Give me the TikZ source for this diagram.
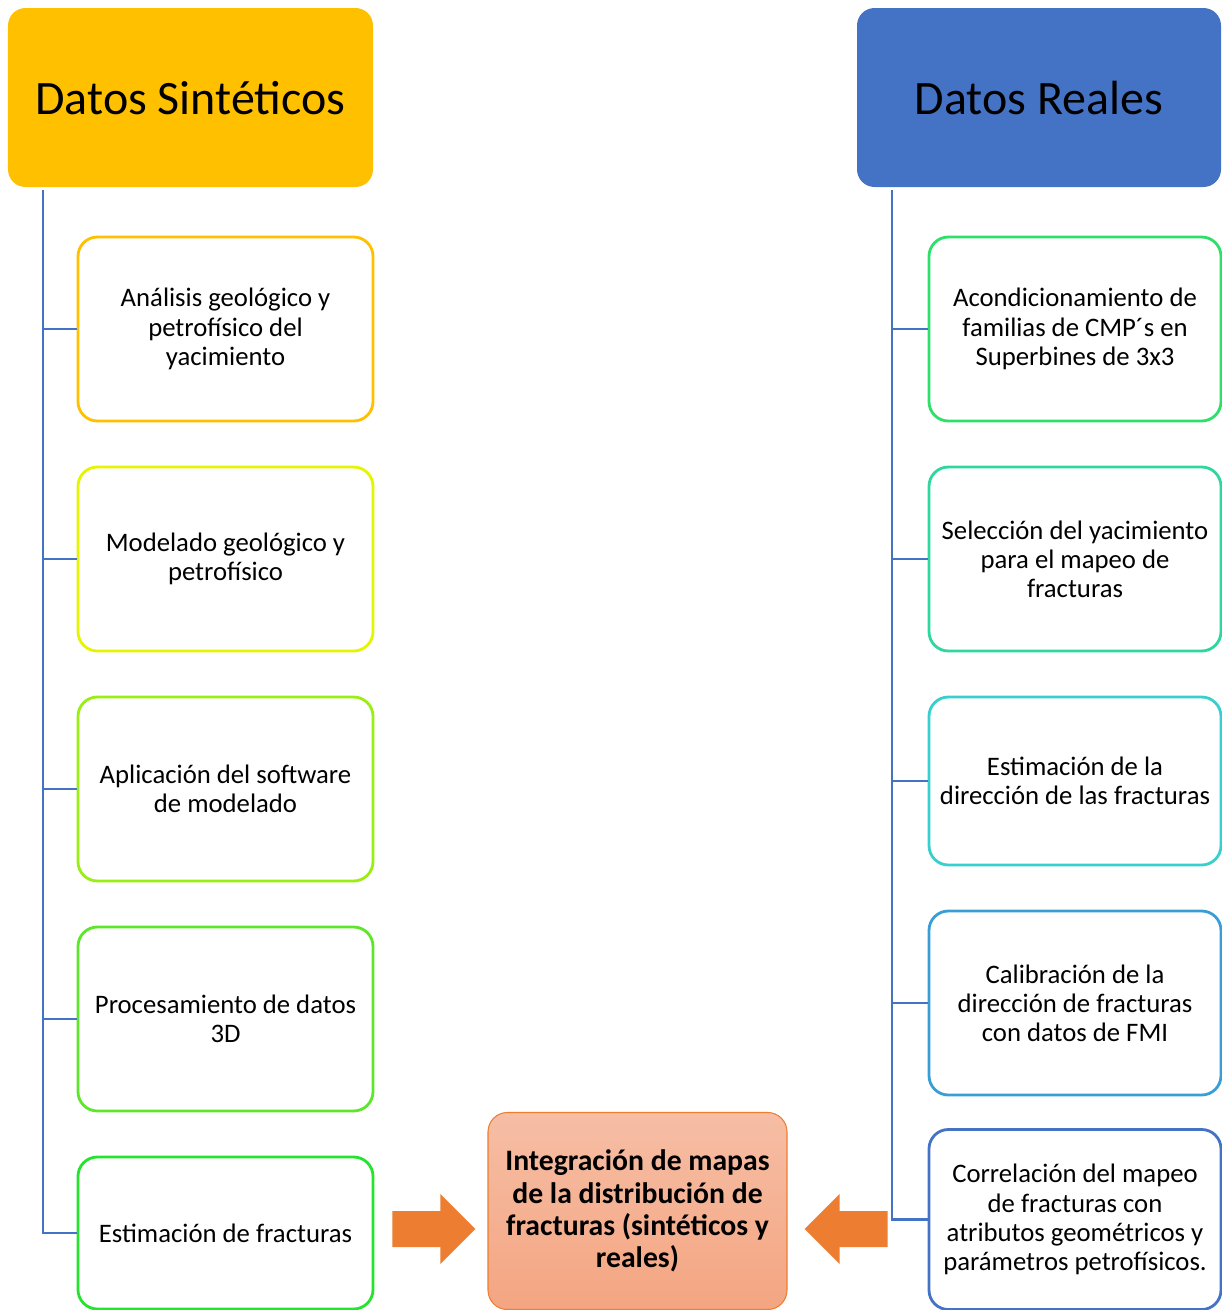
\documentclass[tikz,border=0pt]{standalone}
\usepackage{fontspec}
\setmainfont{Carlito}
\usetikzlibrary{positioning}

\definecolor{gold}{HTML}{FFC000}
\definecolor{steel}{HTML}{4472C4}
\definecolor{tangerine}{HTML}{ED7D31}
\definecolor{peachtop}{HTML}{F6BEA5}
\definecolor{peachbot}{HTML}{F4A581}
\definecolor{cA}{HTML}{E5F500}
\definecolor{cB}{HTML}{9AEE12}
\definecolor{cC}{HTML}{5EE62A}
\definecolor{cD}{HTML}{25E42E}
\definecolor{rA}{HTML}{2EDF6A}
\definecolor{rB}{HTML}{2ED6A0}
\definecolor{rC}{HTML}{38CFCF}
\definecolor{rD}{HTML}{3A9ED6}

\tikzset{
  header/.style={rectangle, rounded corners=10pt, minimum height=3.58cm, text depth=0pt,
    font=\fontsize{27.3}{32}\selectfont, inner sep=0pt},
  stepbox/.style={rectangle, rounded corners=11pt, draw=#1, line width=1.6pt, fill=white,
    align=center, font=\fontsize{15.2}{16.6}\selectfont, inner sep=0pt},
  conn/.style={draw=steel, line width=1.6pt},
  blockarrow/.style={fill=tangerine}
}

\begin{document}
\begin{tikzpicture}
        \useasboundingbox (0,0) rectangle (24.44,-26.2);

        % Nodes
        \node[header, fill=gold, minimum width=7.3cm] (synt) at (3.81,-1.95) {Datos Sintéticos};
        \node[header, fill=steel, minimum width=7.28cm] (real) at (20.78,-1.95) {Datos Reales};

        \node[stepbox=gold, minimum width=5.9cm, minimum height=3.68cm] (s1) at (4.51,-6.58)
            {Análisis geológico y\\petrofísico del\\yacimiento};
        \node[stepbox=cA, minimum width=5.9cm, minimum height=3.68cm] (s2) at (4.51,-11.18)
            {Modelado geológico y\\petrofísico};
        \node[stepbox=cB, minimum width=5.9cm, minimum height=3.68cm] (s3) at (4.51,-15.78)
            {Aplicación del software\\de modelado};
        \node[stepbox=cC, minimum width=5.9cm, minimum height=3.68cm] (s4) at (4.51,-20.38)
            {Procesamiento de datos\\3D};
        \node[stepbox=cD, minimum width=5.9cm, minimum height=3.04cm] (s5) at (4.51,-24.66)
            {Estimación de fracturas};

        \node[stepbox=rA, minimum width=5.84cm, minimum height=3.68cm] (r1) at (21.5,-6.58)
            {Acondicionamiento de\\familias de CMP´s en\\Superbines de 3x3};
        \node[stepbox=rB, minimum width=5.84cm, minimum height=3.68cm] (r2) at (21.5,-11.18)
            {Selección del yacimiento\\para el mapeo de\\fracturas};
        \node[stepbox=rC, minimum width=5.84cm, minimum height=3.36cm] (r3) at (21.5,-15.62)
            {Estimación de la\\dirección de las fracturas};
        \node[stepbox=rD, minimum width=5.84cm, minimum height=3.68cm] (r4) at (21.5,-20.06)
            {Calibración de la\\dirección de fracturas\\con datos de FMI};
        \node[stepbox=steel, minimum width=5.84cm, minimum height=3.6cm] (r5) at (21.5,-24.39)
            {Correlación del mapeo\\de fracturas con\\atributos geométricos y\\parámetros petrofísicos.};

        \node[rectangle, rounded corners=11pt, draw=tangerine, line width=0.6pt,
              top color=peachtop, bottom color=peachbot,
              minimum width=5.98cm, minimum height=3.94cm, align=center, inner sep=0pt,
              font=\bfseries\fontsize{16.9}{18.4}\selectfont] (integ) at (12.75,-24.22)
            {Integración de mapas\\de la distribución de\\fracturas (sintéticos y\\reales)};

        \coordinate (lt) at (0.86,-3.79);
        \coordinate (rt) at (17.84,-3.79);

        % Edges
        \draw[conn] (lt) |- (s5.west);
        \foreach \i in {1,...,4}
          \draw[conn] (s\i.west) -- (s\i.west -| lt);
        \draw[conn] (rt) |- (r5.west);
        \foreach \i in {1,...,4}
          \draw[conn] (r\i.west) -- (r\i.west -| rt);

        % Arrows
        \fill[blockarrow] (integ.west |- 0,-24.58) ++(-0.24,0) -- ++(-0.7,0.7) -- ++(0,-0.34)
            -- ++(-0.96,0) -- ++(0,-0.72) -- ++(0.96,0) -- ++(0,-0.34) -- cycle;
        \fill[blockarrow] (integ.east |- 0,-24.58) ++(0.34,0) -- ++(0.7,0.7) -- ++(0,-0.34)
            -- ++(0.96,0) -- ++(0,-0.72) -- ++(-0.96,0) -- ++(0,-0.34) -- cycle;
\end{tikzpicture}
\end{document}
